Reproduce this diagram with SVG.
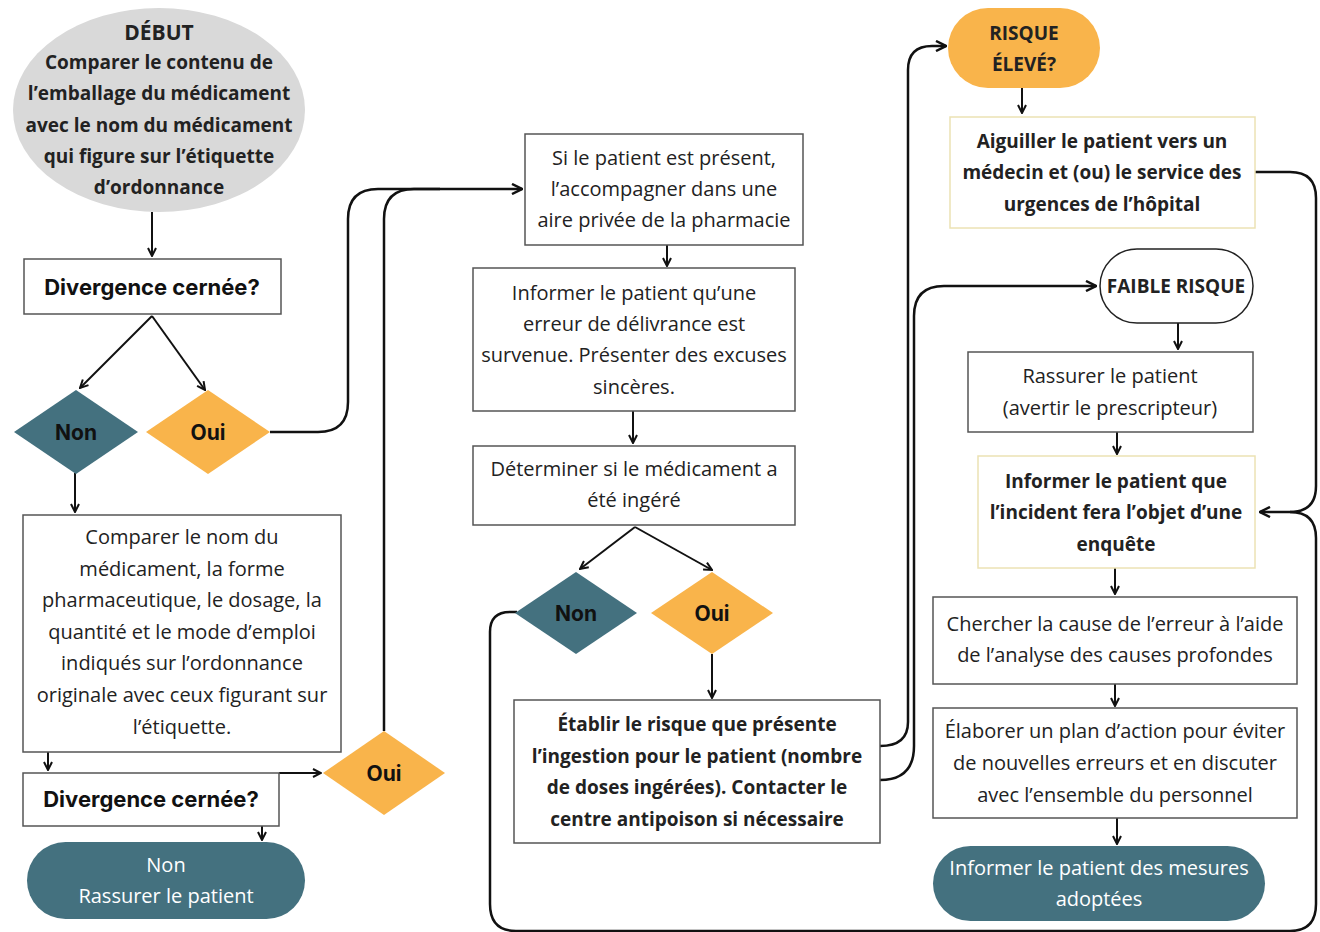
<svg xmlns="http://www.w3.org/2000/svg" width="1320" height="932" viewBox="0 0 1320 932">
<defs>
<marker id="ah" viewBox="0 0 10 10" refX="9" refY="5" markerWidth="5" markerHeight="5" orient="auto" markerUnits="strokeWidth">
<path d="M1,1 L9,5 L1,9" fill="none" stroke="#111" stroke-width="2"/>
</marker>
<style>
.box{fill:#fff;stroke:#555;stroke-width:1.5}
.ybox{fill:#fff;stroke:#ece2b4;stroke-width:1.5}
.teal{fill:#44717f}
.orange{fill:#f9b44b}
.t{font-family:"Open Sans","Liberation Sans",sans-serif;font-size:20px;fill:#222;text-anchor:middle}
.b{font-weight:700;font-size:19px}
.w{fill:#fff}
.g{font-family:Inter,"Liberation Sans",sans-serif;font-weight:700;font-size:21px;text-anchor:middle;fill:#111}
.dv{font-size:22px}
.c{fill:none;stroke:#111;stroke-width:2.5;stroke-linejoin:round}
.s{fill:none;stroke:#111;stroke-width:2}
</style>
</defs>
<rect width="1320" height="932" fill="#fff"/>

<g id="connectors">
<line class="s" x1="152" y1="212" x2="152" y2="256" marker-end="url(#ah)"/>
<line class="s" x1="152" y1="316" x2="80" y2="388" marker-end="url(#ah)"/>
<line class="s" x1="152" y1="316" x2="205" y2="390" marker-end="url(#ah)"/>
<line class="s" x1="75" y1="473" x2="75" y2="512" marker-end="url(#ah)"/>
<line class="s" x1="48" y1="752" x2="48" y2="770" marker-end="url(#ah)"/>
<polyline class="s" points="279,773 321,773" marker-end="url(#ah)"/>
<line class="s" x1="262" y1="826" x2="262" y2="840" marker-end="url(#ah)"/>
<path class="c" d="M270,432 H318 Q348,432 348,402 V219 Q348,189 378,189 H522" marker-end="url(#ah)"/>
<path class="c" d="M384,731 V219 Q384,189 414,189 H440"/>
<line class="s" x1="667" y1="245" x2="667" y2="266" marker-end="url(#ah)"/>
<line class="s" x1="633" y1="411" x2="633" y2="443" marker-end="url(#ah)"/>
<line class="s" x1="635" y1="527" x2="580" y2="569" marker-end="url(#ah)"/>
<line class="s" x1="635" y1="527" x2="712" y2="570" marker-end="url(#ah)"/>
<line class="s" x1="712" y1="654" x2="712" y2="698" marker-end="url(#ah)"/>
<path class="c" d="M880,746 Q908,746 908,722 V70 Q908,46 932,46 H946" marker-end="url(#ah)"/>
<path class="c" d="M880,780 Q914,780 914,746 V316 Q914,286 944,286 H1096" marker-end="url(#ah)"/>
<line class="s" x1="1022" y1="88" x2="1022" y2="113" marker-end="url(#ah)"/>
<path class="c" d="M1255,172 H1290 Q1316,172 1316,198 V486 Q1316,512 1290,512 H1260" marker-end="url(#ah)"/>
<path class="c" d="M517,612 H510 Q490,612 490,632 V904 Q490,931 516,931 H1290 Q1316,931 1316,904 V538 Q1316,512 1290,512"/>
<line class="s" x1="1178" y1="323" x2="1178" y2="349" marker-end="url(#ah)"/>
<line class="s" x1="1117" y1="432" x2="1117" y2="454" marker-end="url(#ah)"/>
<line class="s" x1="1115" y1="568" x2="1115" y2="594" marker-end="url(#ah)"/>
<line class="s" x1="1115" y1="684" x2="1115" y2="706" marker-end="url(#ah)"/>
<line class="s" x1="1117" y1="818" x2="1117" y2="844" marker-end="url(#ah)"/>
</g>

<g id="debut">
<ellipse cx="159" cy="110" rx="146" ry="102" fill="#d9d9d9"/>
<text class="t b" x="159" y="40" style="font-size:21px">DÉBUT</text>
<text class="t b" x="159" y="69">Comparer le contenu de</text>
<text class="t b" x="159" y="100">l’emballage du médicament</text>
<text class="t b" x="159" y="132">avec le nom du médicament</text>
<text class="t b" x="159" y="163">qui figure sur l’étiquette</text>
<text class="t b" x="159" y="194">d’ordonnance</text>
</g>

<g id="divergence1">
<rect class="box" x="24" y="259" width="257" height="55"/>
<text class="g dv" x="152" y="295">Divergence cernée?</text>
</g>

<g id="non1">
<polygon class="teal" points="14,432 76,390 138,432 76,474"/>
<text class="g w" x="76" y="440">Non</text>
</g>

<g id="oui1">
<polygon class="orange" points="146,432 208,390 270,432 208,474"/>
<text class="g" x="208" y="440">Oui</text>
</g>

<g id="comparer2">
<rect class="box" x="23" y="515" width="318" height="237"/>
<text class="t" x="182" y="544">Comparer le nom du</text>
<text class="t" x="182" y="576">médicament, la forme</text>
<text class="t" x="182" y="607">pharmaceutique, le dosage, la</text>
<text class="t" x="182" y="639">quantité et le mode d’emploi</text>
<text class="t" x="182" y="670">indiqués sur l’ordonnance</text>
<text class="t" x="182" y="702">originale avec ceux figurant sur</text>
<text class="t" x="182" y="734">l’étiquette.</text>
</g>

<g id="divergence2">
<rect class="box" x="23" y="773" width="256" height="53"/>
<text class="g dv" x="151" y="807">Divergence cernée?</text>
</g>

<g id="oui2">
<polygon class="orange" points="323,773 384,731 445,773 384,815"/>
<text class="g" x="384" y="781">Oui</text>
</g>

<g id="rassurer1">
<rect class="teal" x="27" y="842" width="278" height="77" rx="38.5"/>
<text class="t w" x="166" y="872">Non</text>
<text class="t w" x="166" y="903">Rassurer le patient</text>
</g>

<g id="present">
<rect class="box" x="525" y="134" width="278" height="111"/>
<text class="t" x="664" y="165">Si le patient est présent,</text>
<text class="t" x="664" y="196">l’accompagner dans une</text>
<text class="t" x="664" y="227">aire privée de la pharmacie</text>
</g>

<g id="informer-erreur">
<rect class="box" x="473" y="268" width="322" height="143"/>
<text class="t" x="634" y="300">Informer le patient qu’une</text>
<text class="t" x="634" y="331">erreur de délivrance est</text>
<text class="t" x="634" y="362">survenue. Présenter des excuses</text>
<text class="t" x="634" y="394">sincères.</text>
</g>

<g id="determiner">
<rect class="box" x="473" y="446" width="322" height="79"/>
<text class="t" x="634" y="476">Déterminer si le médicament a</text>
<text class="t" x="634" y="507">été ingéré</text>
</g>

<g id="non3">
<polygon class="teal" points="515,613 576,572 637,613 576,654"/>
<text class="g w" x="576" y="621">Non</text>
</g>

<g id="oui3">
<polygon class="orange" points="651,613 712,572 773,613 712,654"/>
<text class="g" x="712" y="621">Oui</text>
</g>

<g id="etablir">
<rect class="box" x="514" y="700" width="366" height="143"/>
<text class="t b" x="697" y="731">Établir le risque que présente</text>
<text class="t b" x="697" y="763">l’ingestion pour le patient (nombre</text>
<text class="t b" x="697" y="794">de doses ingérées). Contacter le</text>
<text class="t b" x="697" y="826">centre antipoison si nécessaire</text>
</g>

<g id="risque-eleve">
<rect class="orange" x="948" y="8" width="152" height="80" rx="40"/>
<text class="t b" x="1024" y="40">RISQUE</text>
<text class="t b" x="1024" y="71">ÉLEVÉ?</text>
</g>

<g id="aiguiller">
<rect class="ybox" x="950" y="117" width="305" height="111"/>
<text class="t b" x="1102" y="148">Aiguiller le patient vers un</text>
<text class="t b" x="1102" y="179">médecin et (ou) le service des</text>
<text class="t b" x="1102" y="211">urgences de l’hôpital</text>
</g>

<g id="faible-risque">
<rect x="1100" y="249" width="153" height="74" rx="37" fill="#fff" stroke="#222" stroke-width="1.5"/>
<text class="t b" x="1176" y="293">FAIBLE RISQUE</text>
</g>

<g id="rassurer2">
<rect class="box" x="968" y="352" width="285" height="80"/>
<text class="t" x="1110" y="383">Rassurer le patient</text>
<text class="t" x="1110" y="415">(avertir le prescripteur)</text>
</g>

<g id="enquete">
<rect class="ybox" x="978" y="456" width="277" height="112"/>
<text class="t b" x="1116" y="488">Informer le patient que</text>
<text class="t b" x="1116" y="519">l’incident fera l’objet d’une</text>
<text class="t b" x="1116" y="551">enquête</text>
</g>

<g id="chercher">
<rect class="box" x="933" y="597" width="364" height="87"/>
<text class="t" x="1115" y="631">Chercher la cause de l’erreur à l’aide</text>
<text class="t" x="1115" y="662">de l’analyse des causes profondes</text>
</g>

<g id="elaborer">
<rect class="box" x="933" y="708" width="364" height="110"/>
<text class="t" x="1115" y="738">Élaborer un plan d’action pour éviter</text>
<text class="t" x="1115" y="770">de nouvelles erreurs et en discuter</text>
<text class="t" x="1115" y="802">avec l’ensemble du personnel</text>
</g>

<g id="mesures">
<rect class="teal" x="933" y="846" width="332" height="75" rx="37.5"/>
<text class="t w" x="1099" y="875">Informer le patient des mesures</text>
<text class="t w" x="1099" y="906">adoptées</text>
</g>
</svg>
